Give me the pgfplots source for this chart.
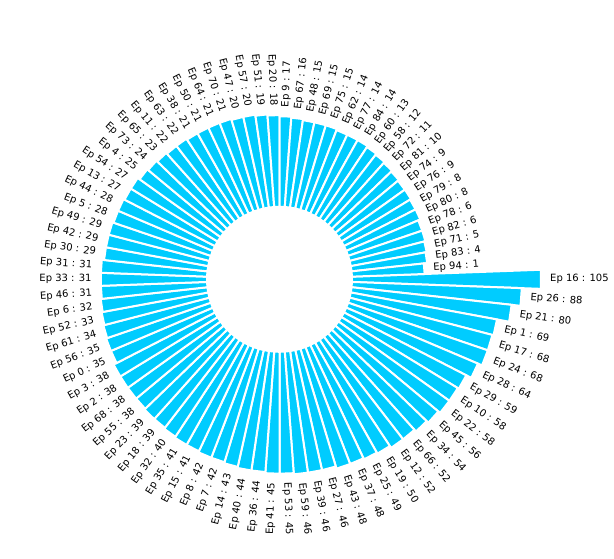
\documentclass[border=0pt]{standalone}
\usepackage{pgfplots}
\usepackage{pgfplotstable}
\pgfplotsset{compat=1.18}
\usepackage{fontspec}
\setmainfont{DejaVu Sans}
\definecolor{barcyan}{RGB}{0,204,255}

% episode / value, clockwise from 3 o'clock
\pgfplotstableread{
ep val
16 105
26 88
21 80
1 69
17 68
24 68
28 64
29 59
10 58
22 58
45 56
34 54
66 52
12 52
19 50
25 49
37 48
43 48
27 46
39 46
59 46
53 45
41 45
36 44
40 44
14 43
7 42
8 42
15 41
35 41
32 40
18 39
23 39
55 38
68 38
2 38
3 38
0 35
56 35
61 34
52 33
6 32
46 31
33 31
31 31
30 29
42 29
49 29
5 28
44 28
13 27
54 27
4 25
73 24
65 23
11 22
63 22
38 21
50 21
64 21
70 21
47 20
57 20
51 19
20 18
9 17
67 16
48 15
69 15
75 15
62 14
77 14
84 14
60 13
58 12
72 11
81 10
74 9
76 9
79 8
80 8
78 6
82 6
71 5
83 4
94 1
}\epdata

% geometry (page units)
\def\cx{279.5}
\def\cy{278.7}
\def\rin{72.5}
\def\rbase{144.1}
\def\rscale{1.118}
\def\lpad{9}

\begin{document}
\begin{tikzpicture}
\begin{axis}[
    x=1pt, y=1pt,
    xmin=0, xmax=614, ymin=0, ymax=558,
    hide axis, clip=false
]
\path (axis cs:0,0) rectangle (axis cs:614,558);
\pgfplotstablegetrowsof{\epdata}
\pgfmathtruncatemacro\nbars{\pgfplotsretval}
\pgfmathtruncatemacro\lastrow{\nbars-1}
\pgfmathsetmacro\half{180/\nbars}
\pgfmathsetmacro\step{360/\nbars}
\foreach \j in {0,...,\lastrow} {
    \pgfplotstablegetelem{\j}{ep}\of\epdata \let\ep\pgfplotsretval
    \pgfplotstablegetelem{\j}{val}\of\epdata \let\val\pgfplotsretval
    \pgfmathsetmacro\ang{-\j*\step}
    \pgfmathsetmacro\rout{\rbase+\rscale*\val}
    \pgfmathsetmacro\xa{\cx+\rin*cos(\ang-\half)}
    \pgfmathsetmacro\ya{\cy+\rin*sin(\ang-\half)}
    \pgfmathsetmacro\xb{\cx+\rout*cos(\ang-\half)}
    \pgfmathsetmacro\yb{\cy+\rout*sin(\ang-\half)}
    \pgfmathsetmacro\xc{\cx+\rout*cos(\ang+\half)}
    \pgfmathsetmacro\yc{\cy+\rout*sin(\ang+\half)}
    \pgfmathsetmacro\xd{\cx+\rin*cos(\ang+\half)}
    \pgfmathsetmacro\yd{\cy+\rin*sin(\ang+\half)}
    \edef\tmp{\noexpand\addplot[fill=barcyan, draw=white, line width=2pt]
        coordinates {(\xa,\ya) (\xb,\yb) (\xc,\yc) (\xd,\yd)} -- cycle;}
    \tmp
    % label
    \pgfmathsetmacro\rl{\rout+\lpad}
    \pgfmathsetmacro\lx{\cx+\rl*cos(\ang)}
    \pgfmathsetmacro\ly{\cy+\rl*sin(\ang)}
    \pgfmathtruncatemacro\rside{cos(\ang)>0}
    \ifnum\rside=1
        \let\rot\ang \def\anc{west}
    \else
        \pgfmathsetmacro\rot{\ang+180}\def\anc{east}
    \fi
    \edef\tmp{\noexpand\node[rotate=\rot, anchor=\anc, inner sep=0pt,
        font=\noexpand\fontsize{10}{12}\noexpand\selectfont]
        at (axis cs:\lx,\ly) {Ep \ep{} : \val};}
    \tmp
}
\end{axis}
\end{tikzpicture}
\end{document}
